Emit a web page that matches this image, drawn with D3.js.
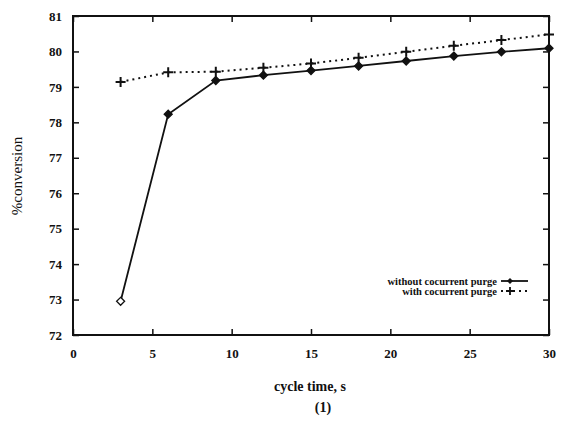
<!DOCTYPE html>
<html>
<head>
<meta charset="utf-8">
<script src="https://cdn.jsdelivr.net/npm/d3@7"></script>
<style>
  body { margin: 0; background: #fff; }
  text { font-family: "Liberation Serif", "DejaVu Serif", serif; font-weight: bold; fill: #111; }
</style>
</head>
<body>
<div id="chart"></div>
<script>
// Data
var cycleTime = [3, 6, 9, 12, 15, 18, 21, 24, 27, 30];
var withoutPurge = [72.95, 78.23, 79.18, 79.33, 79.46, 79.59, 79.73, 79.87, 79.99, 80.09];
var withPurge = [79.14, 79.41, 79.43, 79.54, 79.66, 79.82, 79.99, 80.16, 80.32, 80.48];
var xTicks = [0, 5, 10, 15, 20, 25, 30];
var yTicks = [72, 73, 74, 75, 76, 77, 78, 79, 80, 81];

var svgWidth = 561;
var svgHeight = 429;

var margin = { top: 16, right: 12, bottom: 94, left: 73 };
var chartWidth = svgWidth - margin.left - margin.right;
var chartHeight = svgHeight - margin.top - margin.bottom;

var svg = d3.select("#chart")
  .append("svg")
  .attr("width", svgWidth)
  .attr("height", svgHeight);

var chartGroup = svg.append("g")
  .attr("transform", `translate(${margin.left}, ${margin.top})`);

var xScale = d3.scaleLinear().domain([0, 30]).range([0, chartWidth]);
var yScale = d3.scaleLinear().domain([72, 81]).range([chartHeight, 0]);

// Inward ticks on all four sides
var bottomAxis = d3.axisBottom(xScale).tickValues(xTicks).tickSize(-6).tickPadding(14);
var topAxis = d3.axisTop(xScale).tickValues(xTicks).tickSize(-6).tickFormat("");
var leftAxis = d3.axisLeft(yScale).tickValues(yTicks).tickSize(-6).tickPadding(11);
var rightAxis = d3.axisRight(yScale).tickValues(yTicks).tickSize(-6).tickFormat("");

chartGroup.append("g").attr("transform", `translate(0, ${chartHeight})`).call(bottomAxis);
chartGroup.append("g").call(topAxis);
chartGroup.append("g").call(leftAxis);
chartGroup.append("g").attr("transform", `translate(${chartWidth}, 0)`).call(rightAxis);

chartGroup.selectAll(".domain").remove();
chartGroup.selectAll(".tick line").attr("stroke", "#111").attr("stroke-width", 1.5);
chartGroup.selectAll(".tick text").style("font-size", "13px");

chartGroup.append("rect")
  .attr("width", chartWidth)
  .attr("height", chartHeight)
  .attr("fill", "none")
  .attr("stroke", "#111")
  .attr("stroke-width", 2);

var line = d3.line()
  .x((d, i) => xScale(cycleTime[i]))
  .y(d => yScale(d));

chartGroup.append("path")
  .datum(withPurge)
  .attr("d", line)
  .attr("fill", "none")
  .attr("stroke", "#111")
  .attr("stroke-width", 2)
  .attr("stroke-dasharray", "2,4");

chartGroup.append("path")
  .datum(withoutPurge)
  .attr("d", line)
  .attr("fill", "none")
  .attr("stroke", "#111")
  .attr("stroke-width", 1.8);

// diamond markers
var diamond = "M0,-4L4,0L0,4L-4,0Z";
chartGroup.selectAll(".diam")
  .data(withoutPurge)
  .enter()
  .append("path")
  .attr("d", diamond)
  .attr("transform", (d, i) => `translate(${xScale(cycleTime[i])}, ${yScale(d)})`)
  .attr("fill", (d, i) => i == 0 ? "#fff" : "#111")
  .attr("stroke", "#111")
  .attr("stroke-width", 1.3);

// plus markers
chartGroup.selectAll(".plus")
  .data(withPurge)
  .enter()
  .append("path")
  .attr("d", "M-5,0H5M0,-5V5")
  .attr("transform", (d, i) => `translate(${xScale(cycleTime[i])}, ${yScale(d)})`)
  .attr("stroke", "#111")
  .attr("stroke-width", 2);

// Legend
var legend = [
  { label: "without cocurrent purge", y: 265, dash: null, mark: "diamond" },
  { label: "with cocurrent purge", y: 275, dash: "2,4", mark: "plus" }
];
legend.forEach(function(l) {
  chartGroup.append("text")
    .attr("x", 424)
    .attr("y", l.y)
    .attr("dy", "0.35em")
    .attr("text-anchor", "end")
    .style("font-size", "10.5px")
    .text(l.label);
  chartGroup.append("line")
    .attr("x1", 428).attr("x2", 455)
    .attr("y1", l.y).attr("y2", l.y)
    .attr("stroke", "#111")
    .attr("stroke-width", 1.8)
    .attr("stroke-dasharray", l.dash);
  if (l.mark == "diamond") {
    chartGroup.append("path").attr("d", "M0,-3L3,0L0,3L-3,0Z")
      .attr("transform", `translate(437, ${l.y})`).attr("fill", "#111");
  } else {
    chartGroup.append("path").attr("d", "M-4,0H4M0,-4V4")
      .attr("transform", `translate(437, ${l.y})`)
      .attr("stroke", "#111").attr("stroke-width", 1.8);
  }
});

// Axis labels
svg.append("text")
  .attr("transform", "translate(22, 176) rotate(-90)")
  .attr("text-anchor", "middle")
  .style("font-size", "15px")
  .style("font-weight", "normal")
  .text("%conversion");

svg.append("text")
  .attr("x", 310)
  .attr("y", 391)
  .attr("text-anchor", "middle")
  .style("font-size", "14px")
  .text("cycle time, s");

svg.append("text")
  .attr("x", 323)
  .attr("y", 412)
  .attr("text-anchor", "middle")
  .style("font-size", "14px")
  .text("(1)");
</script>
</body>
</html>
